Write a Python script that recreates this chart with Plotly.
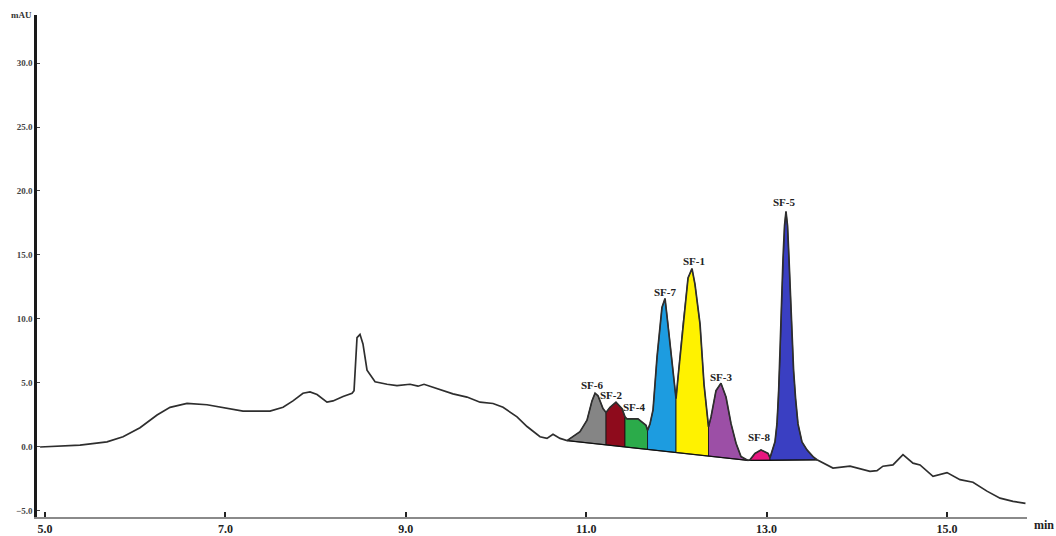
import numpy as np
import plotly.graph_objects as go

# ---- data (retention time in min, absorbance in mAU) ----
time_min = [4.945, 5.388, 5.687, 5.865, 6.053, 6.242, 6.386, 6.574, 6.796, 7.018,
            7.195, 7.494, 7.639, 7.749, 7.860, 7.938, 8.016, 8.126, 8.193, 8.304,
            8.404, 8.426, 8.459, 8.492, 8.525, 8.570, 8.659, 8.792, 8.902, 9.047,
            9.135, 9.202, 9.346, 9.523, 9.678, 9.823, 9.967, 10.078, 10.233, 10.344,
            10.488, 10.565, 10.632, 10.710, 10.787, 10.931, 11.009, 11.064, 11.098, 11.131,
            11.186, 11.220, 11.264, 11.330, 11.397, 11.430, 11.452, 11.574, 11.663, 11.680,
            11.707, 11.741, 11.785, 11.840, 11.874, 11.907, 11.951, 11.996, 12.018, 12.073,
            12.129, 12.173, 12.206, 12.262, 12.306, 12.356, 12.384, 12.439, 12.494, 12.550,
            12.605, 12.661, 12.716, 12.794, 12.816, 12.871, 12.938, 13.016, 13.038, 13.093,
            13.115, 13.132, 13.149, 13.165, 13.182, 13.199, 13.215, 13.232, 13.248, 13.265,
            13.282, 13.299, 13.321, 13.348, 13.392, 13.448, 13.514, 13.559, 13.736, 13.925,
            14.146, 14.224, 14.290, 14.401, 14.512, 14.623, 14.701, 14.845, 15.000, 15.144,
            15.288, 15.443, 15.588, 15.732, 15.870]
signal_mau = [0.00, 0.15, 0.40, 0.80, 1.50, 2.50, 3.10, 3.40, 3.30, 3.00,
              2.80, 2.80, 3.10, 3.60, 4.20, 4.30, 4.10, 3.50, 3.60, 3.95,
              4.20, 4.40, 8.55, 8.80, 8.05, 6.00, 5.10, 4.90, 4.80, 4.90,
              4.75, 4.90, 4.55, 4.15, 3.90, 3.50, 3.40, 3.10, 2.35, 1.60,
              0.80, 0.67, 1.00, 0.67, 0.50, 1.19, 2.10, 3.60, 4.20, 4.00,
              3.00, 2.70, 3.10, 3.50, 3.00, 2.35, 2.20, 2.20, 1.70, 1.30,
              1.80, 2.90, 7.00, 10.90, 11.60, 9.60, 6.50, 3.77, 5.45, 9.60,
              13.20, 13.93, 12.70, 9.60, 4.90, 1.57, 2.35, 4.40, 4.98, 3.90,
              1.84, 0.29, -0.75, -1.05, -1.00, -0.50, -0.23, -0.50, -0.85, 0.40,
              1.80, 4.00, 7.00, 11.00, 14.75, 17.30, 18.40, 17.30, 14.75, 11.50,
              8.50, 6.00, 3.80, 1.80, 0.40, -0.23, -0.75, -1.00, -1.65, -1.50,
              -1.90, -1.85, -1.50, -1.40, -0.60, -1.26, -1.40, -2.30, -2.00, -2.55,
              -2.75, -3.45, -4.00, -4.25, -4.40]

peak_names = ["SF-6", "SF-2", "SF-4", "SF-7", "SF-1", "SF-3", "SF-8", "SF-5"]
peak_start = [10.787, 11.220, 11.430, 11.680, 11.996, 12.356, 12.816, 13.038]
peak_end = [11.220, 11.430, 11.680, 11.996, 12.356, 12.794, 13.038, 13.559]
peak_colors = ["#858585", "#8e0b1c", "#2bab4a", "#1d9ce0", "#fff200",
               "#9c4fa6", "#e8177f", "#3a3fc2"]

baseline_time = [10.787, 12.794, 13.559]
baseline_mau = [0.50, -1.05, -1.00]

x_ticks = [5.0, 7.0, 9.0, 11.0, 13.0, 15.0]
y_ticks = [-5.0, 0.0, 5.0, 10.0, 15.0, 20.0, 25.0, 30.0]

# label offsets (pixels) for peak names
label_dx = [-3, -4, 10, 0, 2, 1, -2, -1]
label_dy = [8, 7, 10, 7, 8, 6, 13, 9]

t = np.array(time_min)
s = np.array(signal_mau)

fig = go.Figure()

# coloured peak areas
for name, a, b, col in zip(peak_names, peak_start, peak_end, peak_colors):
    sel = (t >= a - 1e-9) & (t <= b + 1e-9)
    xs = list(t[sel]) + [b, a, t[sel][0]]
    ys = list(s[sel]) + [float(np.interp(b, baseline_time, baseline_mau)),
                         float(np.interp(a, baseline_time, baseline_mau)), s[sel][0]]
    fig.add_trace(go.Scatter(x=xs, y=ys, mode="lines", fill="toself",
                             fillcolor=col, line=dict(color="#111111", width=0.8),
                             hoverinfo="skip", showlegend=False))

# baseline
fig.add_trace(go.Scatter(x=baseline_time, y=baseline_mau, mode="lines",
                         line=dict(color="#111111", width=1.3),
                         hoverinfo="skip", showlegend=False))

# chromatogram trace
fig.add_trace(go.Scatter(x=time_min, y=signal_mau, mode="lines",
                         line=dict(color="#2e2e2e", width=1.7),
                         showlegend=False))

# peak labels
for name, a, b, dx, dy in zip(peak_names, peak_start, peak_end, label_dx, label_dy):
    sel = (t >= a - 1e-9) & (t <= b + 1e-9)
    idx = np.argmax(s[sel])
    fig.add_annotation(x=t[sel][idx], y=s[sel][idx], text=name, showarrow=False,
                       xanchor="center", yanchor="middle", xshift=dx, yshift=dy,
                       font=dict(family="Liberation Serif", size=11, color="#222222",
                                 weight="bold"))

fig.add_annotation(xref="paper", yref="paper", x=-0.003, y=1.0, text="mAU",
                   showarrow=False, xanchor="right", yanchor="middle",
                   font=dict(family="Liberation Serif", size=9, color="#333333",
                             weight="bold"))
fig.add_annotation(xref="paper", yref="paper", x=1.005, y=-0.016, text="min",
                   showarrow=False, xanchor="left", yanchor="middle",
                   font=dict(family="Liberation Serif", size=12, color="#222222",
                             weight="bold"))

fig.update_layout(
    width=1056, height=536,
    margin=dict(l=37, r=29, t=15, b=19, autoexpand=False),
    paper_bgcolor="white", plot_bgcolor="white",
    showlegend=False,
)
fig.update_xaxes(range=[4.911, 15.887], tickvals=x_ticks, tickformat=".1f",
                 automargin=False,
                 showgrid=False, zeroline=False, showline=True,
                 linecolor="#8a8a8a", linewidth=2,
                 ticks="inside", ticklen=5, tickwidth=1.5, tickcolor="#222222",
                 tickfont=dict(family="Liberation Serif", size=12, color="#222222",
                               weight="bold"))
fig.update_yaxes(range=[-5.47, 33.75], tickvals=y_ticks, tickformat=".1f",
                 automargin=False,
                 showgrid=False, zeroline=False, showline=True,
                 linecolor="#1a1a1a", linewidth=2.5,
                 ticks="inside", ticklen=3, tickwidth=1, tickcolor="#444444",
                 tickfont=dict(family="Liberation Serif", size=9, color="#444444",
                               weight="bold"))

fig.write_html("out.html",
               config={"displayModeBar": False},
               post_script="document.body.style.margin='0';"
                           "document.body.style.overflow='hidden';")
